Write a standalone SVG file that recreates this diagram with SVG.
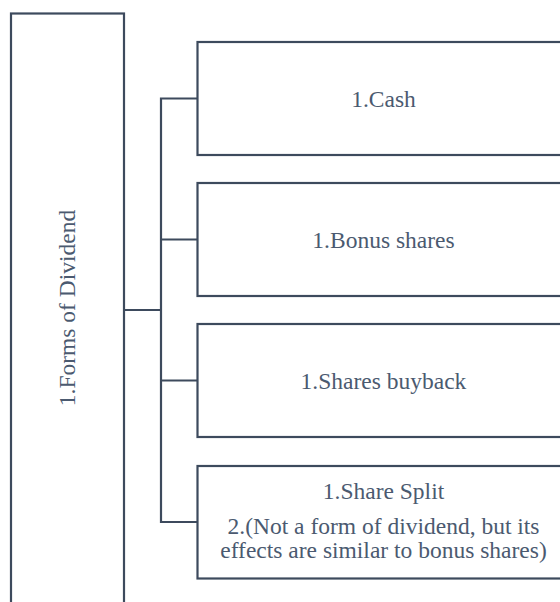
<svg xmlns="http://www.w3.org/2000/svg" width="560" height="602" viewBox="0 0 560 602">
<style>
.box{fill:#ffffff;stroke:#3d4a5d;stroke-width:2.2}
.con{fill:none;stroke:#3d4a5d;stroke-width:2.2}
text{font-family:'Liberation Serif','Times New Roman',Times,serif;font-size:23.5px;fill:#4b5a70;text-anchor:middle}
</style>
<rect width="560" height="602" fill="#ffffff"/>
<g id="connectors">
<polyline class="con" points="124,310 161,310"/>
<polyline class="con" points="198,98.5 161,98.5 161,522 198,522"/>
<line class="con" x1="161" y1="239.5" x2="198" y2="239.5"/>
<line class="con" x1="161" y1="380.5" x2="198" y2="380.5"/>
</g>
<g id="root">
<rect class="box" x="11" y="13.5" width="113" height="620"/>
<text transform="translate(75,308) rotate(-90)">1.Forms of Dividend</text>
</g>
<g id="cash">
<rect class="box" x="197.5" y="42" width="372" height="113"/>
<text x="383.5" y="106.5">1.Cash</text>
</g>
<g id="bonus">
<rect class="box" x="197.5" y="183" width="372" height="113"/>
<text x="383.5" y="247.5">1.Bonus shares</text>
</g>
<g id="buyback">
<rect class="box" x="197.5" y="324" width="372" height="113"/>
<text x="383.5" y="388.5">1.Shares buyback</text>
</g>
<g id="split">
<rect class="box" x="197.5" y="466" width="372" height="112.5"/>
<text x="383.5" y="498.5">1.Share Split</text>
<text x="383.5" y="533.5">2.(Not a form of dividend, but its</text>
<text x="383.5" y="558">effects are similar to bonus shares)</text>
</g>
</svg>
